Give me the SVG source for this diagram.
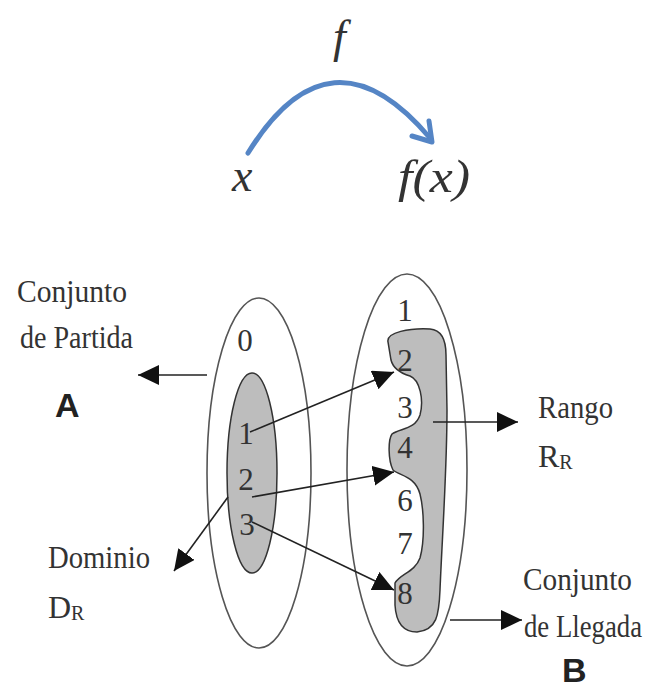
<svg xmlns="http://www.w3.org/2000/svg" width="656" height="688" viewBox="0 0 656 688">
<style>
.t{font-family:"Liberation Serif","Times New Roman",serif;font-size:32px;fill:#333}
.n{font-family:"Liberation Serif","Times New Roman",serif;font-size:31px;fill:#333;text-anchor:middle}
.m{font-family:"Liberation Serif","Times New Roman",serif;font-style:italic;font-size:46px;fill:#333}
.b{font-family:"Liberation Sans",Arial,sans-serif;font-weight:bold;font-size:34px;fill:#222}
.ol{fill:none;stroke:#555;stroke-width:1.6}
.ln{fill:none;stroke:#222;stroke-width:1.6}
</style>
<defs>
<marker id="ah" markerUnits="userSpaceOnUse" markerWidth="24" markerHeight="22" refX="21" refY="10" orient="auto">
<path d="M0,0 L21,10 L0,20 Z" fill="#111"/>
</marker>
</defs>
<g id="mapping">
<text class="m" x="333" y="52">f</text>
<text class="m" x="232" y="191">x</text>
<text class="m" x="398" y="192" textLength="72" lengthAdjust="spacingAndGlyphs">f(x)</text>
<path d="M248,153 Q330,20 430,138" fill="none" stroke="#5585c5" stroke-width="5" stroke-linecap="round"/>
<polyline points="412,136 432,142 429,121" fill="none" stroke="#5585c5" stroke-width="5" stroke-linecap="round" stroke-linejoin="round"/>
</g>
<g id="setA">
<ellipse class="ol" cx="259" cy="473" rx="52" ry="175" fill="#fff"/>
<ellipse cx="252" cy="473" rx="25" ry="100" fill="#bdbdbd" stroke="#333" stroke-width="1.5"/>
<text class="n" x="245" y="351">0</text>
<text class="n" x="246" y="444">1</text>
<text class="n" x="246" y="490">2</text>
<text class="n" x="247" y="535">3</text>
</g>
<g id="setB">
<ellipse class="ol" cx="407" cy="470" rx="60" ry="196" fill="#fff"/>
<path d="M388,342 C386,332 410,328 430,329 C442,330 446,340 446,355 L447,410 C447,470 442,540 440,590 C439,615 437,630 417,632 C402,632 396,622 395,605 L395,583 C400,574 415,572 420,558 C425,540 424,510 420,494 C415,476 400,476 393,470 C388,460 388,440 392,434 C400,428 415,430 420,415 C424,400 420,380 410,376 C400,373 393,368 391,360 Z" fill="#bdbdbd" stroke="#333" stroke-width="1.5"/>
<text class="n" x="405" y="321">1</text>
<text class="n" x="405" y="371">2</text>
<text class="n" x="405" y="418">3</text>
<text class="n" x="405" y="458">4</text>
<text class="n" x="405" y="511">6</text>
<text class="n" x="405" y="554">7</text>
<text class="n" x="405" y="604">8</text>
</g>
<g id="labels">
<text class="t" x="17" y="302" textLength="110" lengthAdjust="spacingAndGlyphs">Conjunto</text>
<text class="t" x="20" y="348" textLength="113" lengthAdjust="spacingAndGlyphs">de Partida</text>
<text class="b" x="55" y="417">A</text>
<text class="t" x="48" y="568" textLength="102" lengthAdjust="spacingAndGlyphs">Dominio</text>
<text class="t" x="48" y="618">D<tspan font-size="20" dy="2">R</tspan></text>
<text class="t" x="538" y="418" textLength="75" lengthAdjust="spacingAndGlyphs">Rango</text>
<text class="t" x="538" y="467">R<tspan font-size="20" dy="2">R</tspan></text>
<text class="t" x="523" y="590" textLength="109" lengthAdjust="spacingAndGlyphs">Conjunto</text>
<text class="t" x="524" y="637" font-size="28" textLength="118" lengthAdjust="spacingAndGlyphs">de Llegada</text>
<text class="b" x="562" y="682">B</text>
</g>
<g id="connectors">
<line class="ln" x1="207" y1="375" x2="138" y2="375" marker-end="url(#ah)"/>
<line class="ln" x1="228" y1="497" x2="174" y2="571" marker-end="url(#ah)"/>
<line class="ln" x1="250" y1="432" x2="394" y2="372" marker-end="url(#ah)"/>
<line class="ln" x1="252" y1="497" x2="394" y2="472" marker-end="url(#ah)"/>
<line class="ln" x1="252" y1="522" x2="394" y2="590" marker-end="url(#ah)"/>
<line class="ln" x1="433" y1="422" x2="518" y2="422" marker-end="url(#ah)"/>
<line class="ln" x1="450" y1="620" x2="522" y2="620" marker-end="url(#ah)"/>
</g>
</svg>
